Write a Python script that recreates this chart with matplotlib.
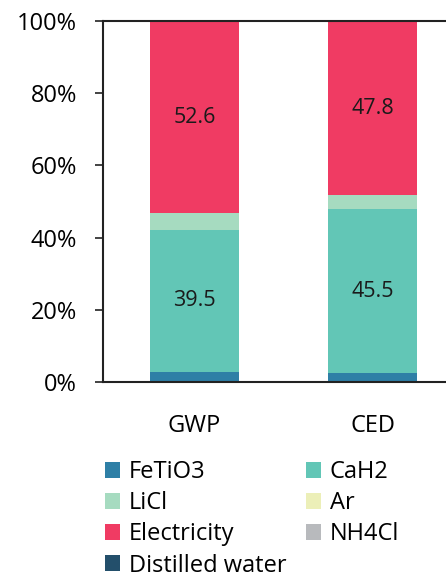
import matplotlib
matplotlib.use("Agg")
import matplotlib.pyplot as plt
from matplotlib.patches import Patch
from matplotlib.ticker import PercentFormatter

plt.rcParams['font.family'] = ['Open Sans', 'DejaVu Sans']

categories = ['GWP', 'CED']
components = ['FeTiO3', 'CaH2', 'LiCl', 'Ar', 'Electricity', 'NH4Cl', 'Distilled water']
colors = ['#2e7fa6', '#62c6b6', '#a6dbc0', '#ecefb8', '#f03b63', '#b8babd', '#234f6b']

# share of each component (%) for GWP, CED
values = {
    'FeTiO3':          [2.7, 2.4],
    'CaH2':            [39.5, 45.5],
    'LiCl':            [4.6, 3.8],
    'Ar':              [0.1, 0.1],
    'Electricity':     [52.6, 47.8],
    'NH4Cl':           [0.1, 0.35],
    'Distilled water': [0.4, 0.05],
}
labelled = ['CaH2', 'Electricity']

fig = plt.figure(figsize=(4.46, 5.79), dpi=100)
ax = fig.add_axes([0.232, 0.34, 0.78, 0.6245])

x = range(len(categories))
bottom = [0.0] * len(categories)
for name, col in zip(components, colors):
    vals = values[name]
    ax.bar(x, vals, 0.5, bottom=bottom, color=col, edgecolor='none')
    if name in labelled:
        for i, v in enumerate(vals):
            ax.text(i, bottom[i] + v / 2, f'{v:.1f}', ha='center', va='center',
                    fontsize=15.5, color='#1a1a1a')
    bottom = [b + v for b, v in zip(bottom, vals)]

ax.set_xlim(-0.51, 1.44)
ax.set_ylim(0, 100)
ax.set_yticks(range(0, 101, 20))
ax.yaxis.set_major_formatter(PercentFormatter(decimals=0))
ax.set_xticks(list(x))
ax.set_xticklabels(categories)
ax.tick_params(axis='y', length=6, width=1.2, labelsize=17, pad=13, color='#222222')
ax.tick_params(axis='x', length=0, labelsize=17, pad=23)
ax.spines['right'].set_visible(False)
for s in ['left', 'bottom', 'top']:
    ax.spines[s].set_linewidth(1.5)
    ax.spines[s].set_color('#222222')

# legend reads row by row in the picture, matplotlib fills column by column
order = [0, 2, 4, 6, 1, 3, 5]
handles = [Patch(facecolor=colors[k], edgecolor='none') for k in order]
names = [components[k] for k in order]
fig.legend(handles, names, loc='upper left', bbox_to_anchor=(0.236, 0.205),
           ncol=2, frameon=False, fontsize=17, handlelength=0.64, handleheight=0.64,
           handletextpad=0.35, columnspacing=0.85, labelspacing=0.3,
           borderpad=0, borderaxespad=0)

fig.savefig('out.png', dpi=100)
